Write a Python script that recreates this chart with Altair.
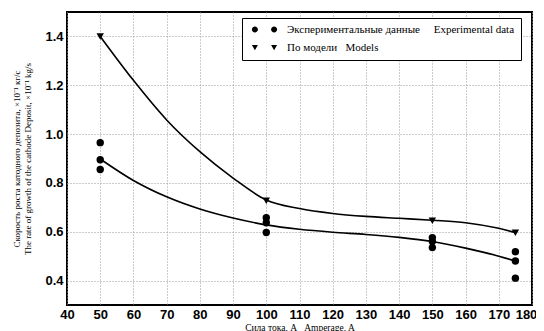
import altair as alt
import pandas as pd

# --- data ---
currents = [50, 100, 150, 175]
exp_high = [0.965, 0.657, 0.576, 0.518]
exp_mid = [0.895, 0.637, 0.560, 0.480]
exp_low = [0.855, 0.597, 0.535, 0.410]
model_vals = [1.40, 0.727, 0.645, 0.596]

# fitted curves at these currents
curve_x = [50, 60, 70, 80, 90, 100, 110, 120, 130, 140, 150, 160, 170, 175]
model_curve = [1.400, 1.220, 1.058, 0.928, 0.820, 0.730, 0.695, 0.675,
               0.663, 0.655, 0.647, 0.637, 0.614, 0.597]
exp_curve = [0.898, 0.810, 0.743, 0.693, 0.656, 0.628, 0.610, 0.598,
             0.589, 0.577, 0.560, 0.533, 0.500, 0.480]

x_ticks = list(range(40, 181, 10))
y_ticks = [0.4, 0.6, 0.8, 1.0, 1.2, 1.4]

NB = "\u00a0"
EXP = "Экспериментальные данные" + NB * 5 + "Experimental data"
MOD = "По модели" + NB * 3 + "Models"

y_title = ["Скорость роста катодного депозита, ×10⁻¹ кг/с",
           "The rate of growth of the cathode Deposit, ×10⁻¹ kg/s"]
x_title = "Сила тока, А" + NB * 3 + "Amperage, A"

rows = []
for i, c in enumerate(currents):
    for v in (exp_high[i], exp_mid[i], exp_low[i]):
        rows.append({"I": c, "v": v, "series": EXP})
    rows.append({"I": c, "v": model_vals[i], "series": MOD})
pts = pd.DataFrame(rows)

lrows = []
for i, c in enumerate(curve_x):
    lrows.append({"I": c, "v": model_curve[i], "curve": "model"})
    lrows.append({"I": c, "v": exp_curve[i], "curve": "exp"})
lines = pd.DataFrame(lrows)

def circ(cx):
    return f"M{cx-1},0A1,1 0 1,0 {cx+1},0A1,1 0 1,0 {cx-1},0Z"

def tri(cx):
    return f"M{cx-1},-0.8L{cx+1},-0.8L{cx},0.95Z"

path_exp = circ(-3.2) + circ(3.2)
path_mod = tri(-3.2) + tri(3.2)

x_enc = alt.X("I:Q", scale=alt.Scale(domain=[40, 180], nice=False, zero=False),
              axis=alt.Axis(values=x_ticks, format="d", title=x_title,
                            labelFont="Liberation Sans", labelFontWeight="bold",
                            labelFontSize=13, labelColor="black", labelPadding=3,
                            labelFlush=False, labelOverlap=False,
                            labelOffset={"condition": {"test": "datum.value >= 180",
                                                       "value": -6},
                                         "value": 0},
                            ticks=False, domain=False, grid=True,
                            gridColor="#999999", gridDash=[1, 2], gridWidth=1,
                            titleFont="Liberation Serif", titleFontWeight="normal",
                            titleFontSize=9.5, titleColor="black", titlePadding=1))
y_enc = alt.Y("v:Q", scale=alt.Scale(domain=[0.3, 1.5], nice=False, zero=False),
              axis=alt.Axis(values=y_ticks, format=".1f", title=y_title,
                            labelFont="Liberation Sans", labelFontWeight="bold",
                            labelFontSize=13, labelColor="black", labelPadding=4,
                            labelFlush=False,
                            ticks=False, domain=False, grid=True,
                            gridColor="#999999", gridDash=[1, 2], gridWidth=1,
                            titleFont="Liberation Serif", titleFontWeight="normal",
                            titleFontSize=9, titleColor="black", titlePadding=12,
                            titleLineHeight=11))

line_layer = alt.Chart(lines).mark_line(color="black", strokeWidth=1.6,
                                        interpolate="monotone").encode(
    x=x_enc, y=y_enc, detail="curve:N")

pt_layer = alt.Chart(pts).mark_point(filled=True, size=55, color="black",
                                     opacity=1).encode(
    x=x_enc, y=y_enc,
    shape=alt.Shape("series:N",
                    scale=alt.Scale(domain=[EXP, MOD],
                                    range=["circle", "triangle-down"]),
                    legend=None))

legend = alt.Legend(
    orient="none", legendX=175, legendY=6, title=None,
    strokeColor="black", fillColor="white", padding=6,
    labelFont="Liberation Serif", labelFontSize=11, labelColor="black",
    labelLimit=400, labelOffset=17, symbolOffset=11, symbolSize=36,
    symbolFillColor="black", symbolStrokeColor="black", symbolOpacity=1,
    rowPadding=5,
)

legend_layer = alt.Chart(pts).mark_point(filled=True, color="black",
                                         opacity=0).encode(
    x=x_enc, y=y_enc,
    shape=alt.Shape("series:N",
                    scale=alt.Scale(domain=[EXP, MOD],
                                    range=[path_exp, path_mod]),
                    legend=legend))

chart = alt.layer(line_layer, legend_layer, pt_layer).resolve_scale(
    shape="independent"
).properties(
    width=465, height=293,
    autosize=alt.AutoSizeParams(type="none"),
    padding={"left": 59, "top": 4, "right": 4, "bottom": 30},
    background="white",
).configure_view(stroke="black", strokeWidth=2)

chart.save("out.html", embed_options={"renderer": "svg", "actions": False})
